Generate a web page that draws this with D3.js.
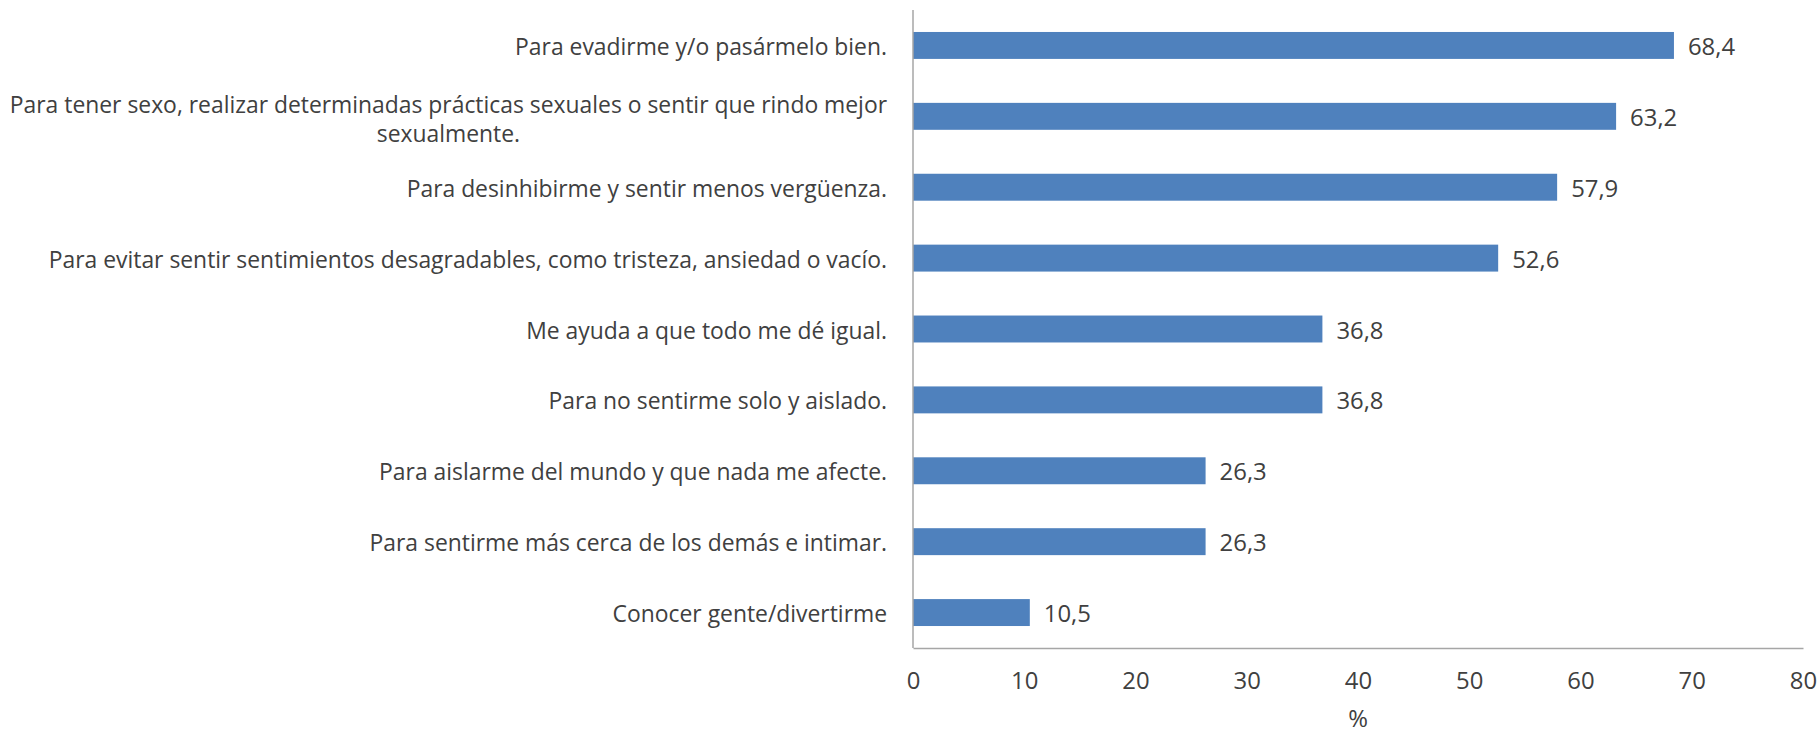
<!DOCTYPE html>
<html>
<head>
<meta charset="utf-8">
<script src="https://cdn.jsdelivr.net/npm/d3@7"></script>
<style>
  html, body { margin: 0; padding: 0; background: #ffffff; }
  svg { display: block; }
</style>
</head>
<body>
<svg id="chart" width="1819" height="733"></svg>
<script>
const categories = [
  "Para evadirme y/o pasármelo bien.",
  "Para tener sexo, realizar determinadas prácticas sexuales o sentir que rindo mejor\nsexualmente.",
  "Para desinhibirme y sentir menos vergüenza.",
  "Para evitar sentir sentimientos desagradables, como tristeza, ansiedad o vacío.",
  "Me ayuda a que todo me dé igual.",
  "Para no sentirme solo y aislado.",
  "Para aislarme del mundo y que nada me afecte.",
  "Para sentirme más cerca de los demás e intimar.",
  "Conocer gente/divertirme"
];
const values = [68.4, 63.2, 57.9, 52.6, 36.8, 36.8, 26.3, 26.3, 10.5];
const valueLabels = ["68,4", "63,2", "57,9", "52,6", "36,8", "36,8", "26,3", "26,3", "10,5"];
const xTicks = [0, 10, 20, 30, 40, 50, 60, 70, 80];
const xTitle = "%";

const svg = d3.select("#chart");
const FONT = "'Open Sans', 'Noto Sans', sans-serif";
const TEXT = "#404040";
const margin = { left: 913, right: 16, top: 10, bottom: 85 };
const W = 1819, H = 733;

const x = d3.scaleLinear().domain([0, 80]).range([margin.left, W - margin.right]);
const y = d3.scaleBand().domain(categories).range([margin.top, H - margin.bottom]).paddingInner(0.62).paddingOuter(0.31);

// font size so that labels match the reference widths
const probe = svg.append("text").attr("font-family", FONT).attr("font-size", 100)
  .text("Para evitar sentir sentimientos desagradables, como tristeza, ansiedad o vacío.");
const fsA = 848 / probe.node().getComputedTextLength() * 100;
probe.text("Para tener sexo, realizar determinadas prácticas sexuales o sentir que rindo mejor");
const fsB = 878 / probe.node().getComputedTextLength() * 100;
probe.remove();
const fs = Math.min(24, fsA, fsB);

// bars
svg.append("g").selectAll("rect").data(categories).join("rect")
  .attr("x", x(0))
  .attr("y", d => y(d))
  .attr("width", (d, i) => x(values[i]) - x(0))
  .attr("height", y.bandwidth())
  .attr("fill", "#4F81BD");

// value labels
svg.append("g").selectAll("text").data(categories).join("text")
  .attr("x", (d, i) => x(values[i]) + 14)
  .attr("y", d => y(d) + y.bandwidth() / 2)
  .attr("dominant-baseline", "central")
  .attr("font-family", FONT).attr("font-size", fs + 1).attr("fill", TEXT)
  .text((d, i) => valueLabels[i]);

// category labels
const labelRight = x(0) - 26;
const lg = svg.append("g");
categories.forEach(c => {
  const lines = c.split("\n");
  const cy = y(c) + y.bandwidth() / 2;
  if (lines.length === 1) {
    lg.append("text").attr("x", labelRight).attr("y", cy + 1)
      .attr("text-anchor", "end").attr("dominant-baseline", "central")
      .attr("font-family", FONT).attr("font-size", fs).attr("fill", TEXT).text(c);
  } else {
    const t1 = lg.append("text").attr("x", labelRight).attr("y", cy - 12)
      .attr("text-anchor", "end").attr("dominant-baseline", "central")
      .attr("font-family", FONT).attr("font-size", fs).attr("fill", TEXT).text(lines[0]);
    const w1 = t1.node().getComputedTextLength();
    lg.append("text").attr("x", labelRight - w1 / 2).attr("y", cy + 17)
      .attr("text-anchor", "middle").attr("dominant-baseline", "central")
      .attr("font-family", FONT).attr("font-size", fs).attr("fill", TEXT).text(lines[1]);
  }
});

// axes
const axisColor = "#A6A6A6";
const xAxis = svg.append("g").attr("transform", `translate(0,${H - margin.bottom})`)
  .call(d3.axisBottom(x).tickValues(xTicks).tickSize(0).tickPadding(24).tickFormat(d3.format("d")));
xAxis.select(".domain").attr("stroke", axisColor).attr("stroke-width", 1.5);
xAxis.selectAll("text").attr("font-family", FONT).attr("font-size", fs + 1).attr("fill", TEXT);

svg.append("line")
  .attr("x1", x(0)).attr("x2", x(0))
  .attr("y1", margin.top).attr("y2", H - margin.bottom)
  .attr("stroke", axisColor).attr("stroke-width", 1.5);

svg.append("text")
  .attr("x", (x(0) + x(80)) / 2).attr("y", 717)
  .attr("text-anchor", "middle").attr("dominant-baseline", "central")
  .attr("font-family", FONT).attr("font-size", fs + 1).attr("fill", TEXT)
  .text(xTitle);
</script>
</body>
</html>
